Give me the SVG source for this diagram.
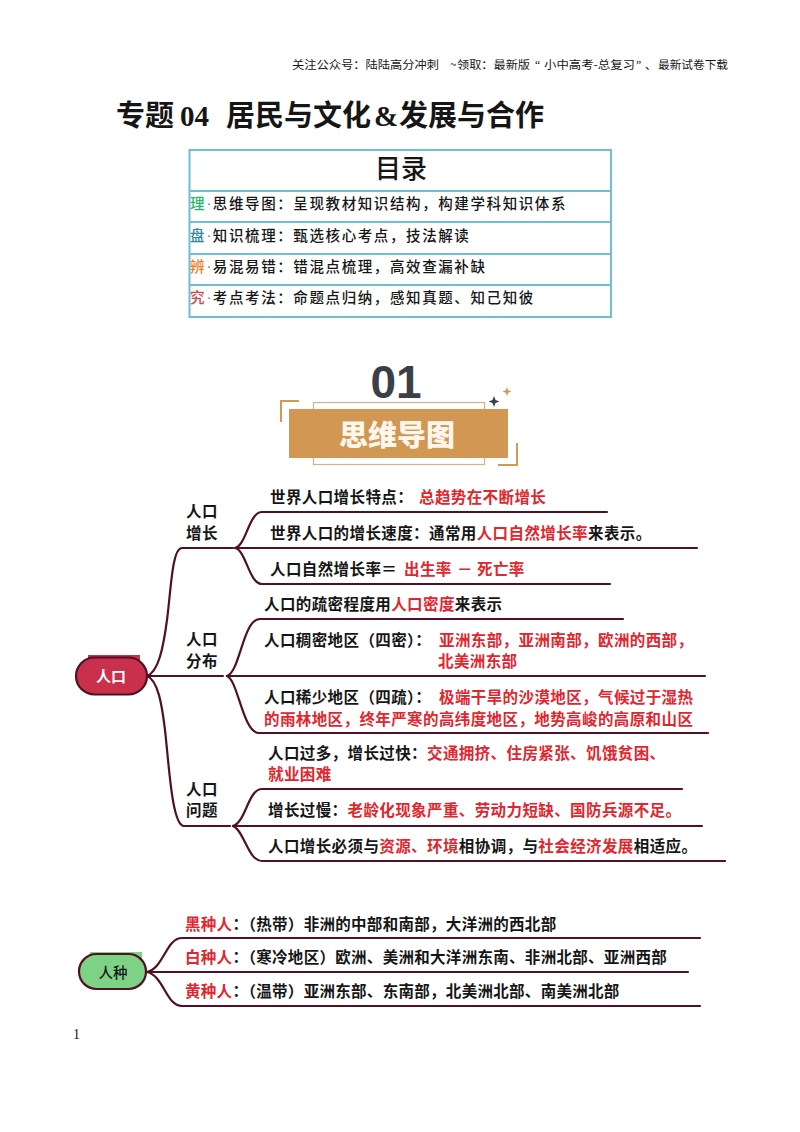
<svg xmlns="http://www.w3.org/2000/svg" width="800" height="1132" viewBox="0 0 800 1132">
<style>
text{font-family:"Noto Sans CJK SC","Liberation Serif",serif;fill:#161616}
.b{font-weight:700}
.r{fill:#e0272f;font-weight:700}
.m{font-size:15.5px;font-weight:700;letter-spacing:.4px}
.n{font-size:15.5px;font-weight:700;letter-spacing:.3px}
.t{font-size:14.5px;font-weight:500}
.tt{letter-spacing:1.6px}
.d{font-family:"Liberation Serif",serif;fill:#3f8f8f}
.h{font-size:11.7px}
.s{font-family:"Liberation Serif",serif}
.lnk{fill:none;stroke:#4f1123;stroke-width:2.200;stroke-linecap:round}
.cell{fill:none;stroke:#73bcd5;stroke-width:2}
</style>
<rect width="800" height="1132" fill="#fff"/>
<text x="292" y="69" class="h" textLength="147" lengthAdjust="spacingAndGlyphs">关注公众号：陆陆高分冲刺</text>
<text x="450" y="69" class="h">~</text>
<text x="457" y="69" class="h" textLength="73" lengthAdjust="spacingAndGlyphs">领取：最新版</text>
<text x="535" y="69" class="h" style="font-family:'Liberation Serif',serif">“</text>
<text x="544" y="69" class="h" textLength="91" lengthAdjust="spacingAndGlyphs">小中高考-总复习</text>
<text x="636" y="69" class="h" style="font-family:'Liberation Serif',serif">”</text>
<text x="645" y="69" class="h">、</text>
<text x="658" y="69" class="h" textLength="70" lengthAdjust="spacingAndGlyphs">最新试卷下载</text>
<g id="title">
<text x="116" y="126" font-size="29" class="b">专题</text>
<text x="180" y="126" font-size="29" class="b s">04</text>
<text x="226" y="126" font-size="29" class="b">居民与文化</text>
<text x="374" y="126" font-size="29" class="b s">&amp;</text>
<text x="399" y="126" font-size="29" class="b">发展与合作</text>
</g>
<g id="toc">
<rect class="cell" x="189.500" y="150" width="421.500" height="167"/>
<path class="cell" d="M189 191H611M189 222H611M189 254H611M189 285H611"/>
<text x="401" y="178" font-size="26" text-anchor="middle" font-weight="500">目录</text>
<text x="190" y="209" class="t"><tspan style="fill:#1fb866">理</tspan><tspan class="d" dx="2">·</tspan><tspan class="tt" dx="1.500">思维导图：呈现教材知识结构，构建学科知识体系</tspan></text>
<text x="190" y="241" class="t"><tspan style="fill:#2f86a6">盘</tspan><tspan class="d" dx="2">·</tspan><tspan class="tt" dx="1.500">知识梳理：甄选核心考点，技法解读</tspan></text>
<text x="190" y="272" class="t"><tspan style="fill:#ee7c1f">辨</tspan><tspan class="d" dx="2">·</tspan><tspan class="tt" dx="1.500">易混易错：错混点梳理，高效查漏补缺</tspan></text>
<text x="190" y="303" class="t"><tspan style="fill:#c8484c">究</tspan><tspan class="d" dx="2">·</tspan><tspan class="tt" dx="1.500">考点考法：命题点归纳，感知真题、知己知彼</tspan></text>
</g>
<g id="banner">
<path d="M281 422V401H299M517 443V465H498" fill="none" stroke="#d19a55" stroke-width="2"/>
<rect x="313.500" y="402.500" width="171" height="62" fill="none" stroke="#d9b084" stroke-width="1.200"/>
<rect x="289" y="409" width="219" height="49" fill="#d19753"/>
<text x="396" y="398" font-size="46" text-anchor="middle" style="font-family:'Liberation Sans',sans-serif;fill:#3a3f4a" class="b">01</text>
<text x="397" y="446" font-size="29" text-anchor="middle" font-weight="900" style="fill:#fdf6ec">思维导图</text>
<path d="M494 396l1.500 4 4 1.500-4 1.500-1.500 4-1.500-4-4-1.500 4-1.500z" fill="#3a3f4a"/>
<path d="M507 387l1.200 3.300 3.300 1.200-3.300 1.200-1.200 3.300-1.200-3.300-3.300-1.200 3.300-1.200z" fill="#d19753"/>
</g>
<g id="connectors">
<path class="lnk" d="M147 676C158 672 163 650 167 620C171 590 172 548 182 548H233"/>
<path class="lnk" d="M147 676H223"/>
<path class="lnk" d="M147 676C158 680 162 705 165 730C169 765 172 826 184 826H230"/>
<path class="lnk" d="M235 548C246 546 249 512 262 512H607"/>
<path class="lnk" d="M235 548H697"/>
<path class="lnk" d="M235 548C246 550 249 584 262 584H610"/>
<path class="lnk" d="M227 676C240 672 243 619 260 619H623"/>
<path class="lnk" d="M227 676H705"/>
<path class="lnk" d="M227 676C238 680 243 733 259 733H708"/>
<path class="lnk" d="M233 826C246 822 248 789 262 789H682"/>
<path class="lnk" d="M233 826H702"/>
<path class="lnk" d="M233 826C244 830 248 861 262 861H725"/>
<path class="lnk" d="M147 972C164 968 166 938 182 938H700"/>
<path class="lnk" d="M147 972H688"/>
<path class="lnk" d="M147 972C164 976 166 1006 182 1006H700"/>
</g>
<g id="node-renkou">
<rect x="88" y="655" width="52" height="8" fill="#c9304c"/>
<rect x="76" y="657.500" width="71" height="37" rx="18.500" fill="#c9304c" stroke="#4f1123" stroke-width="2.200"/>
<text x="111" y="682" font-size="15" text-anchor="middle" class="b" style="fill:#fff">人口</text>
</g>
<g id="node-renzhong">
<rect x="90" y="952" width="52" height="8" fill="#7ed285"/>
<rect x="79" y="954" width="67" height="35" rx="17.500" fill="#7ed285" stroke="#4f1123" stroke-width="2.200"/>
<text x="113" y="978" font-size="14.500" text-anchor="middle" font-weight="500">人种</text>
</g>
<g id="labels">
<text x="186" y="517" class="m">人口</text><text x="186" y="539" class="m">增长</text>
<text x="186" y="645" class="m">人口</text><text x="186" y="667" class="m">分布</text>
<text x="186" y="795" class="m">人口</text><text x="186" y="816" class="m">问题</text>
<text x="270" y="503" class="m">世界人口增长特点：</text><text x="419" y="503" class="m r">总趋势在不断增长</text>
<text x="270" y="539" class="m">世界人口的增长速度：通常用<tspan class="r">人口自然增长率</tspan>来表示。</text>
<text x="270" y="575" class="m">人口自然增长率＝</text><text x="404" y="575" class="m r">出生率</text><text x="457" y="575" class="m r">－</text><text x="477" y="575" class="m r">死亡率</text>
<text x="264" y="610" class="m">人口的疏密程度用<tspan class="r">人口密度</tspan>来表示</text>
<text x="264" y="646" class="m">人口稠密地区（四密）：</text><text x="439" y="646" class="m r">亚洲东部，亚洲南部，欧洲的西部，</text>
<text x="438" y="667" class="m r">北美洲东部</text>
<text x="264" y="703" class="m">人口稀少地区（四疏）：</text><text x="439" y="703" class="m r">极端干旱的沙漠地区，气候过于湿热</text>
<text x="264" y="725" class="m r">的雨林地区，终年严寒的高纬度地区，地势高峻的高原和山区</text>
<text x="268" y="759" class="m">人口过多，增长过快：<tspan class="r">交通拥挤、住房紧张、饥饿贫困、</tspan></text>
<text x="268" y="780" class="m r">就业困难</text>
<text x="268" y="816" class="m">增长过慢：<tspan class="r">老龄化现象严重、劳动力短缺、国防兵源不足。</tspan></text>
<text x="268" y="852" class="m">人口增长必须与<tspan class="r">资源、环境</tspan>相协调，与<tspan class="r">社会经济发展</tspan>相适应。</text>
<text x="185" y="930" class="n"><tspan class="r">黑种人</tspan>：（热带）非洲的中部和南部，大洋洲的西北部</text>
<text x="185" y="963" class="n"><tspan class="r">白种人</tspan>：（寒冷地区）欧洲、美洲和大洋洲东南、非洲北部、亚洲西部</text>
<text x="185" y="997" class="n"><tspan class="r">黄种人</tspan>：（温带）亚洲东部、东南部，北美洲北部、南美洲北部</text>
<text x="73" y="1039" font-size="14" class="s">1</text>
</g>
</svg>
